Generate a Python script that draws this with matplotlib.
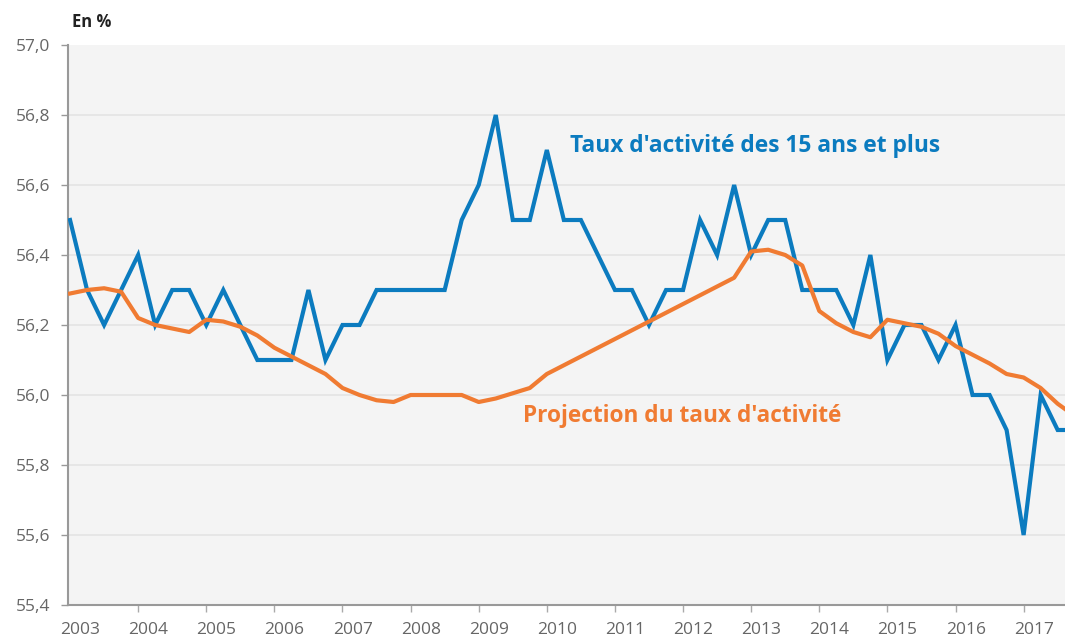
import numpy as np
import matplotlib
matplotlib.use("Agg")
from matplotlib import pyplot as plt

# quarterly values, 2003Q1 .. 2017Q4
taux = [56.5, 56.3, 56.2, 56.3, 56.4, 56.2, 56.3, 56.3,
        56.2, 56.3, 56.2, 56.1, 56.1, 56.1, 56.3, 56.1,
        56.2, 56.2, 56.3, 56.3, 56.3, 56.3, 56.3, 56.5,
        56.6, 56.8, 56.5, 56.5, 56.7, 56.5, 56.5, 56.4,
        56.3, 56.3, 56.2, 56.3, 56.3, 56.5, 56.4, 56.6,
        56.4, 56.5, 56.5, 56.3, 56.3, 56.3, 56.2, 56.4,
        56.1, 56.2, 56.2, 56.1, 56.2, 56.0, 56.0, 55.9,
        55.6, 56.0, 55.9, 55.9]
projection = [56.29, 56.30, 56.305, 56.295, 56.22, 56.20, 56.19, 56.18,
              56.215, 56.21, 56.195, 56.17, 56.135, 56.11, 56.085, 56.06,
              56.02, 56.0, 55.985, 55.98, 56.0, 56.0, 56.0, 56.0,
              55.98, 55.99, 56.005, 56.02, 56.06, 56.085, 56.11, 56.135,
              56.16, 56.185, 56.21, 56.235, 56.26, 56.285, 56.31, 56.335,
              56.41, 56.415, 56.40, 56.37, 56.24, 56.205, 56.18, 56.165,
              56.215, 56.205, 56.195, 56.175, 56.14, 56.115, 56.09, 56.06,
              56.05, 56.02, 55.975, 55.94]
annees = [str(a) for a in range(2003, 2018)]
y_ticks = [55.4, 55.6, 55.8, 56.0, 56.2, 56.4, 56.6, 56.8, 57.0]

bleu = "#0b7bbf"
orange = "#f07b32"
gris = "#666666"
police = ["Open Sans", "DejaVu Sans"]

q = np.arange(len(taux))

fig = plt.figure(figsize=(10.65, 6.39), dpi=100)
ax = fig.add_axes([68 / 1065, 34 / 639, 1 - 68 / 1065, 560 / 639])
ax.set_facecolor("#f4f4f4")

for y in y_ticks[1:-1]:
    ax.axhline(y, color="#e4e4e4", lw=1.2, zorder=0)

ax.plot(q, taux, color=bleu, lw=3.0, solid_joinstyle="miter", zorder=3)
ax.plot(q, projection, color=orange, lw=3.0, solid_joinstyle="round", zorder=4)

ax.set_xlim(-0.12, 58.43)
ax.set_ylim(55.4, 57.0)

ax.set_yticks(y_ticks)
ax.set_yticklabels([("%.1f" % v).replace(".", ",") for v in y_ticks],
                   family=police, fontsize=12.5, color=gris)
ax.tick_params(axis="y", length=5, width=1, color="#999999", pad=8)

# ticks at each year start, labels slightly shifted
ax.set_xticks(np.arange(4, len(taux), 4))
ax.set_xticklabels([])
ax.set_xticks(np.arange(len(annees)) * 4 + 0.6, minor=True)
ax.set_xticklabels(annees, minor=True, family=police, fontsize=12.5, color=gris)
ax.tick_params(axis="x", which="major", length=5, width=1, color="#aaaaaa")
ax.tick_params(axis="x", which="minor", length=0, pad=12)

for s in ["top", "right"]:
    ax.spines[s].set_visible(False)
ax.spines["left"].set_color("#999999")
ax.spines["bottom"].set_color("#999999")
ax.spines["left"].set_linewidth(1.5)
ax.spines["bottom"].set_linewidth(1.5)

ax.text(29.35, 56.712, "Taux d'activité des 15 ans et plus", color=bleu,
        family=police, fontsize=16.4, fontweight="bold", va="center")
ax.text(26.6, 55.94, "Projection du taux d'activité", color=orange,
        family=police, fontsize=16.3, fontweight="bold", va="center")
fig.text(72 / 1065, 1 - 22 / 639, "En %", family=police, fontsize=12,
         fontweight="bold", va="center", color="#222222")

fig.savefig("out.png", dpi=100)
